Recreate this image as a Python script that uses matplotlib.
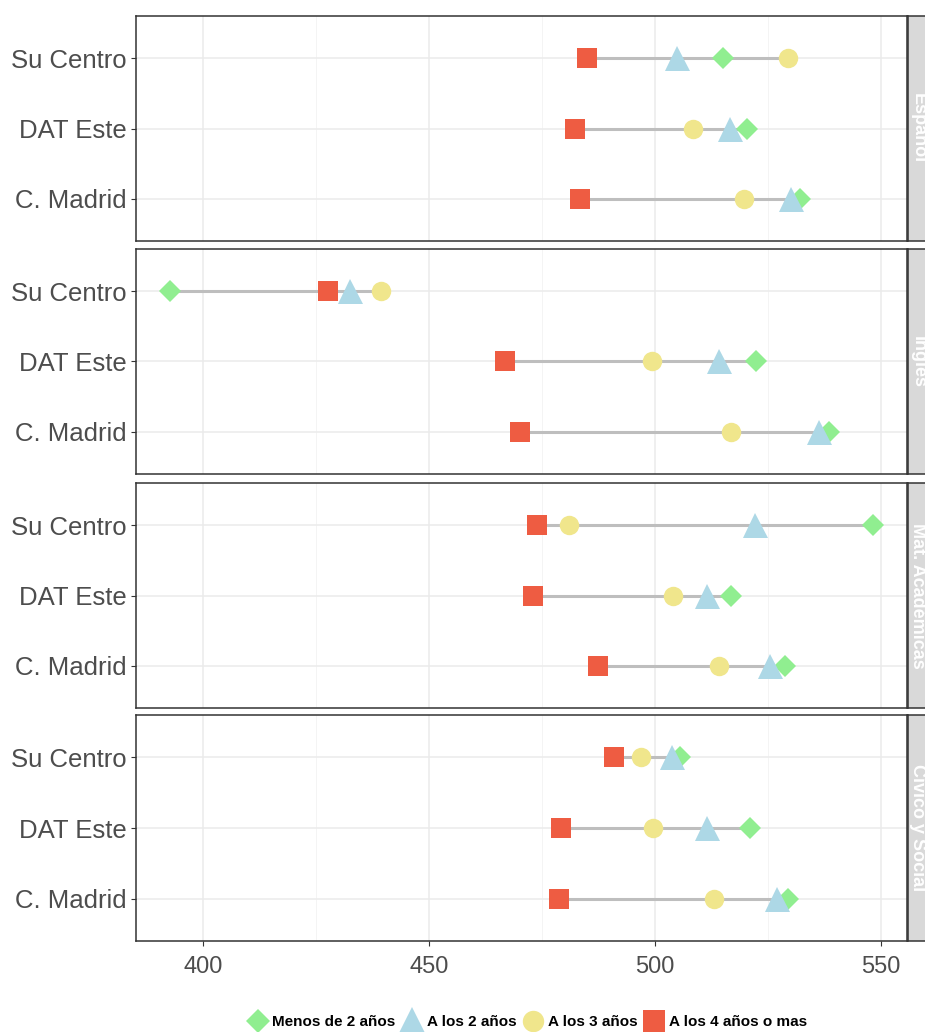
import matplotlib

matplotlib.use("Agg")

import matplotlib.pyplot as plt
from matplotlib.lines import Line2D

plt.rcParams["font.family"] = ["Liberation Sans", "DejaVu Sans"]

# data
subjects = ["Español", "Inglés", "Mat. Académicas", "Cívico y Social"]
centres = ["Su Centro", "DAT Este", "C. Madrid"]
groups = ["Menos de 2 años", "A los 2 años", "A los 3 años", "A los 4 años o mas"]

menos_2 = [
    [515.0, 520.4, 532.1],
    [392.7, 522.3, 538.5],
    [548.2, 516.8, 528.8],
    [505.5, 521.0, 529.4],
]
a_los_2 = [
    [504.9, 516.6, 530.1],
    [432.5, 514.2, 536.3],
    [522.1, 511.5, 525.4],
    [503.8, 511.5, 527.0],
]
a_los_3 = [
    [529.4, 508.4, 519.7],
    [439.4, 499.3, 516.8],
    [481.0, 504.0, 514.2],
    [496.9, 499.6, 513.1],
]
a_los_4 = [
    [485.0, 482.3, 483.4],
    [427.7, 466.8, 470.1],
    [473.9, 473.0, 487.4],
    [490.9, 479.2, 478.8],
]
series = [menos_2, a_los_2, a_los_3, a_los_4]

markers = ["D", "^", "o", "s"]
colors = ["#90EE90", "#ADD8E6", "#F0E68C", "#EE5C42"]
msizes = [11, 18, 14, 14.5]

W, H = 925, 1032
fig = plt.figure(figsize=(W / 100, H / 100), dpi=100)

left, right = 136, 907
panels = [(16, 241), (249, 474), (483, 708), (715, 941)]

for i, (top, bot) in enumerate(panels):
    ax = fig.add_axes([left / W, 1 - bot / H, (right - left) / W, (bot - top) / H])
    ypos = [3, 2, 1]
    ax.set_xlim(385.2, 555.75)
    ax.set_ylim(0.4, 3.6)
    ax.set_xticks([400, 450, 500, 550])
    ax.set_xticks([425, 475, 525], minor=True)
    ax.set_yticks(ypos)
    ax.set_yticklabels(centres)
    ax.grid(True, which="major", color="#EBEBEB", linewidth=1.1, zorder=0)
    ax.grid(True, which="minor", axis="x", color="#F2F2F2", linewidth=0.6, zorder=0)
    ax.tick_params(axis="y", which="major", length=3.5, color="#333333",
                   labelsize=18.5, labelcolor="#4D4D4D", pad=3)
    ax.tick_params(axis="x", which="major", length=3.5, color="#333333",
                   labelsize=17, labelcolor="#4D4D4D", pad=7)
    ax.tick_params(axis="x", which="minor", length=0)
    if i < 3:
        ax.tick_params(axis="x", labelbottom=False, length=0)
    for s in ax.spines.values():
        s.set_color("#333333")
        s.set_linewidth(1.1)

    for j, y in enumerate(ypos):
        vals = [ser[i][j] for ser in series]
        ax.plot([min(vals), max(vals)], [y, y], color="#BEBEBE", linewidth=2.2, zorder=2)
        for k, ser in enumerate(series):
            ax.plot(ser[i][j], y, marker=markers[k], color=colors[k], markersize=msizes[k],
                    markeredgewidth=0, linestyle="none", zorder=3 + k)

    # facet strip on the right
    sx = fig.add_axes([908 / W, 1 - bot / H, 22 / W, (bot - top) / H])
    sx.set_facecolor("#D9D9D9")
    sx.set_xticks([])
    sx.set_yticks([])
    for s in sx.spines.values():
        s.set_color("#333333")
        s.set_linewidth(1.1)
    sx.text(0.45, 0.5, subjects[i], rotation=-90, ha="center", va="center",
            color="white", fontsize=13, fontweight="bold", transform=sx.transAxes)

handles = [
    Line2D([], [], marker=markers[k], color=colors[k], markersize=msizes[k] * 1.1,
           markeredgewidth=0, linestyle="none")
    for k in range(4)
]
leg = fig.legend(handles, groups, loc="center", bbox_to_anchor=(0.57, 1 - 1022 / H),
                 ncol=4, frameon=False, handletextpad=0.3, columnspacing=0.45,
                 prop={"size": 11, "weight": "bold"}, handlelength=1.3)

fig.savefig("out.png", dpi=100)
plt.close(fig)
